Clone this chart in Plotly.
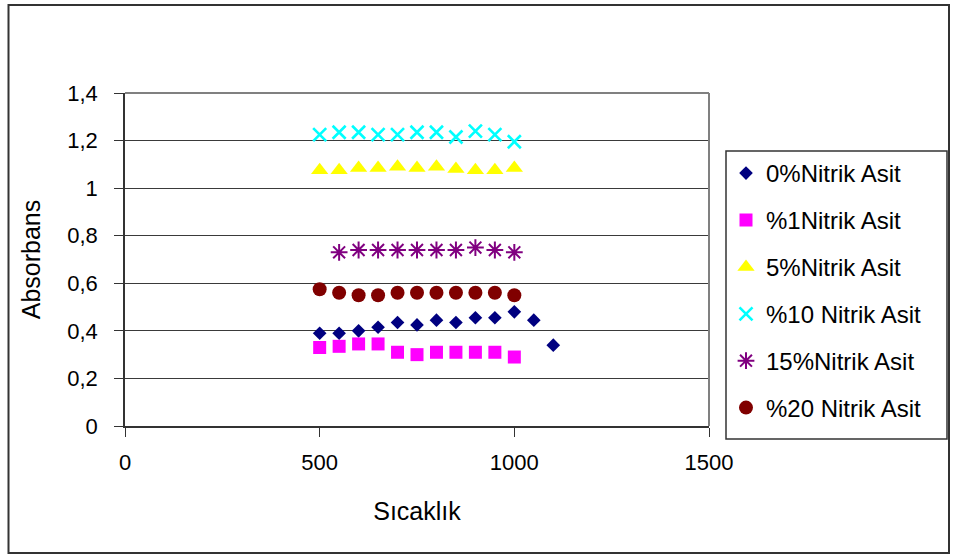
import plotly.graph_objects as go

# Temperature steps (Sıcaklık) for each series
temps_0 = [500, 550, 600, 650, 700, 750, 800, 850, 900, 950, 1000, 1050, 1100]
temps_1 = [500, 550, 600, 650, 700, 750, 800, 850, 900, 950, 1000]
temps_5 = [500, 550, 600, 650, 700, 750, 800, 850, 900, 950, 1000]
temps_10 = [500, 550, 600, 650, 700, 750, 800, 850, 900, 950, 1000]
temps_15 = [550, 600, 650, 700, 750, 800, 850, 900, 950, 1000]
temps_20 = [500, 550, 600, 650, 700, 750, 800, 850, 900, 950, 1000]

# Absorbance readings
abs_0 = [0.39, 0.39, 0.40, 0.415, 0.435, 0.425, 0.445, 0.435, 0.455, 0.455, 0.48, 0.445, 0.34]
abs_1 = [0.33, 0.335, 0.345, 0.345, 0.31, 0.30, 0.31, 0.31, 0.31, 0.31, 0.29]
abs_5 = [1.075, 1.075, 1.085, 1.085, 1.09, 1.085, 1.09, 1.08, 1.075, 1.075, 1.085]
abs_10 = [1.225, 1.235, 1.235, 1.225, 1.225, 1.235, 1.235, 1.215, 1.24, 1.225, 1.195]
abs_15 = [0.73, 0.74, 0.74, 0.74, 0.74, 0.74, 0.74, 0.75, 0.74, 0.73]
abs_20 = [0.575, 0.56, 0.55, 0.55, 0.56, 0.56, 0.56, 0.56, 0.56, 0.56, 0.55]

series_names = ["0%Nitrik Asit", "%1Nitrik Asit", "5%Nitrik Asit",
                "%10 Nitrik Asit", "15%Nitrik Asit", "%20 Nitrik Asit"]

y_tick_vals = [0, 0.2, 0.4, 0.6, 0.8, 1.0, 1.2, 1.4]
y_tick_text = ["0", "0,2", "0,4", "0,6", "0,8", "1", "1,2", "1,4"]
x_tick_vals = [0, 500, 1000, 1500]
x_tick_text = ["0", "500", "1000", "1500"]

FONT = "Liberation Sans, Arial, sans-serif"
W, H = 953, 555
ML, MR, MT, MB = 125, 244, 93, 129
PW, PH = W - ML - MR, H - MT - MB


def px_x(p):
    return (p - ML) / PW


def px_y(p):
    return (H - MB - p) / PH


styles = [
    dict(symbol="diamond", size=10.5, color="#000080"),
    dict(symbol="square", size=13, color="#FF00FF"),
    dict(symbol="triangle-up", size=15, color="#FFFF00"),
    dict(symbol="x-thin", size=13, color="#00FFFF", line=dict(color="#00FFFF", width=2.6)),
    dict(symbol="asterisk", size=14, color="#800080", line=dict(color="#800080", width=2)),
    dict(symbol="circle", size=14, color="#800000"),
]

xs = [temps_0, temps_1, temps_5, temps_10, temps_15, temps_20]
ys = [abs_0, abs_1, abs_5, abs_10, abs_15, abs_20]

fig = go.Figure()
for i, (name, x, y, st) in enumerate(zip(series_names, xs, ys, styles)):
    mk = dict(symbol=st["symbol"], size=st["size"], color=st["color"])
    mk["line"] = st.get("line", dict(width=0))
    fig.add_trace(go.Scatter(x=x, y=y, mode="markers", name=name,
                             legendgroup=f"g{i}", marker=mk))

axis_common = dict(
    showline=True, linecolor="#333333", linewidth=1.5,
    ticks="outside", tickcolor="#333333", ticklen=9, tickwidth=1.2,
    tickfont=dict(family=FONT, size=22, color="#000000"),
    zeroline=False,
)

fig.update_xaxes(range=[0, 1500], tickvals=x_tick_vals, ticktext=x_tick_text,
                 showgrid=False, ticklabelstandoff=7,
                 title=dict(text="Sıcaklık", font=dict(family=FONT, size=25, color="#000000"),
                            standoff=28),
                 **axis_common)
fig.update_yaxes(range=[0, 1.4], tickvals=y_tick_vals, ticktext=y_tick_text,
                 showgrid=True, gridcolor="#3a3a3a", gridwidth=1.2, ticklabelstandoff=12,
                 title=dict(text="Absorbans", font=dict(family=FONT, size=25, color="#000000"),
                            standoff=20),
                 **axis_common)

shapes = [
    # outer chart frame
    dict(type="rect", xref="paper", yref="paper",
         x0=px_x(8.5), x1=px_x(949), y0=px_y(553), y1=px_y(5),
         line=dict(color="#333333", width=2), layer="below"),
    # plot area border (top and right)
    dict(type="line", xref="paper", yref="paper", x0=0, x1=1, y0=1, y1=1,
         line=dict(color="#808080", width=2), layer="above"),
    dict(type="line", xref="paper", yref="paper", x0=1, x1=1, y0=0, y1=1,
         line=dict(color="#808080", width=2), layer="above"),
    # legend box
    dict(type="rect", xref="paper", yref="paper",
         x0=px_x(726), x1=px_x(947), y0=px_y(439), y1=px_y(151),
         line=dict(color="#333333", width=1.5), layer="below"),
]

fig.update_layout(
    width=W, height=H,
    margin=dict(l=ML, r=MR, t=MT, b=MB, autoexpand=False),
    paper_bgcolor="white", plot_bgcolor="white",
    shapes=shapes,
    showlegend=True,
    legend=dict(
        x=px_x(726), y=px_y(151), xanchor="left", yanchor="top",
        xref="paper", yref="paper",
        font=dict(family=FONT, size=24, color="#000000"),
        bgcolor="rgba(0,0,0,0)", borderwidth=0,
        tracegroupgap=12.7,
    ),
)

fig.write_html("out.html")
